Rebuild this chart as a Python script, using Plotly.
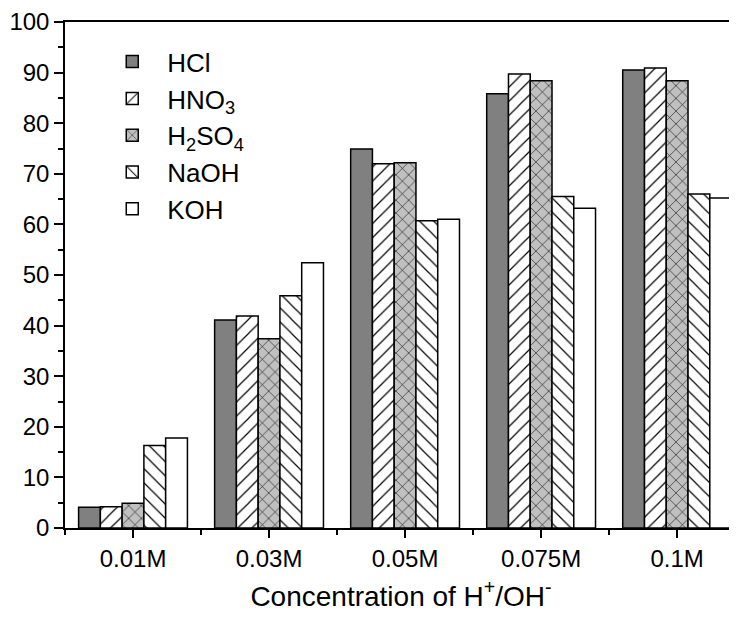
import plotly.graph_objects as go

categories = ["0.01M", "0.03M", "0.05M", "0.075M", "0.1M"]
series_names = ["HCl", "HNO<sub>3</sub>", "H<sub>2</sub>SO<sub>4</sub>", "NaOH", "KOH"]
hcl = [4.1, 41.1, 74.9, 85.8, 90.5]
hno3 = [4.2, 41.9, 72.0, 89.7, 90.9]
h2so4 = [4.9, 37.4, 72.2, 88.4, 88.4]
naoh = [16.3, 45.9, 60.7, 65.5, 66.0]
koh = [17.8, 52.4, 61.0, 63.2, 65.2]
yticks = [0, 10, 20, 30, 40, 50, 60, 70, 80, 90, 100]

series_values = [hcl, hno3, h2so4, naoh, koh]
fills = ["#808080", "#ffffff", "#c0c0c0", "#ffffff", "#ffffff"]
shapes = ["", "/", "x", "\\", ""]
sizes = [10, 10, 9, 10, 10]

x_idx = list(range(len(categories)))
font = "Liberation Sans, Arial, sans-serif"

fig = go.Figure()
for name, vals, fc, shp, sz in zip(series_names, series_values, fills, shapes, sizes):
    fig.add_trace(go.Bar(
        x=x_idx, y=vals, name=name,
        marker=dict(color=fc, line=dict(color="black", width=1.5),
                    pattern=dict(shape=shp, fgcolor="black", bgcolor=fc,
                                 size=sz, solidity=0.12, fillmode="replace")),
    ))

fig.update_layout(
    width=729, height=604,
    margin=dict(l=57, r=0, t=14, b=84, autoexpand=False),
    paper_bgcolor="white", plot_bgcolor="white",
    barmode="group", bargap=0.2, bargroupgap=0,
    font=dict(family=font, color="black", size=23),
    legend=dict(x=0.048, y=0.968, xanchor="left", yanchor="top",
                font=dict(size=26), bgcolor="rgba(0,0,0,0)",
                itemwidth=60, tracegroupgap=0),
    showlegend=True,
)
fig.update_xaxes(
    range=[-0.5, 4.44], tickmode="array", tickvals=x_idx, ticktext=categories,
    showline=True, linecolor="black", linewidth=1.5, mirror=True,
    ticks="outside", ticklen=8, tickwidth=1.5, tickcolor="black",
    minor=dict(tickmode="linear", tick0=0.5, dtick=1, ticks="outside", ticklen=5,
               tickwidth=1.5, tickcolor="black"),
    showgrid=False, zeroline=False,
    tickfont=dict(size=24),
    title=dict(text="Concentration of H<sup>+</sup>/OH<sup>-</sup>",
               font=dict(size=28), standoff=18),
)
fig.update_yaxes(
    range=[0, 100], tickmode="array", tickvals=yticks,
    showline=True, linecolor="black", linewidth=1.5,
    ticks="outside", ticklen=9, tickwidth=1.5, tickcolor="black",
    minor=dict(tickmode="linear", tick0=5, dtick=10, ticks="outside", ticklen=5,
               tickwidth=1.5, tickcolor="black"),
    showgrid=False, zeroline=False,
    tickfont=dict(size=24),
)

fig.write_html("out.html")
